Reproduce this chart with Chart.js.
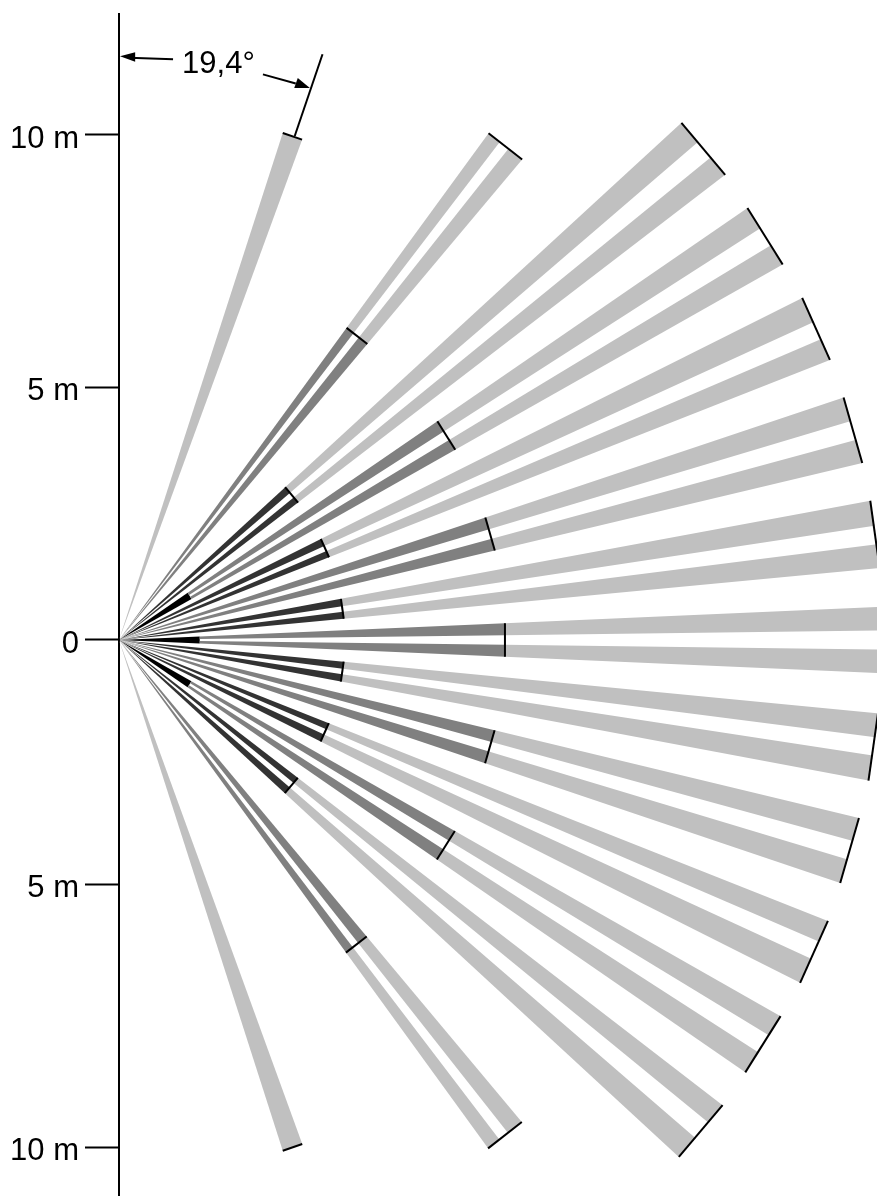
<!DOCTYPE html>
<html>
<head>
<meta charset="utf-8">
<title>Detection zones</title>
<script src="https://cdn.jsdelivr.net/npm/chart.js@4/dist/chart.umd.js"></script>
<style>
  html, body { margin: 0; background: #fff; }
  canvas { display: block; }
</style>
</head>
<body>
<canvas id="zones" width="877" height="1196"></canvas>
<script>
// beams, top to horizontal, angles in degrees above the horizontal
const outerEdge = [72.1, 53.9, 42.6, 34.5, 26.6, 18.5, 10.5, 2.5];
const gapOuter = [null, 52.6, 40.7, 32.7, 24.6, 16.65, 8.6, 0.72];
const gapInner = [null, 51.6, 39.2, 31.2, 23.2, 15.2, 7.2, -0.72];
const innerEdge = [69.9, 50.0, 37.5, 29.5, 21.5, 13.4, 5.4, -2.5];

// the lower half of the drawing sits a little further round
const lowerTilt = 0.12;

// how far each zone reaches, metres (0 = beam has no such zone)
const blackReach = [0, 0, 0, 1.65, 0, 0, 0, 1.6];
const darkReach = [0, 0, 4.47, 0, 4.47, 0, 4.47, 0];
const grayReach = [0, 7.65, 0, 7.65, 0, 7.65, 0, 7.65];
const lightReach = [10.55, 12.42, 15.13, 15.1, 15.13, 15.13, 15.13, 15.13];
const lightReachLower = [10.62, 12.44, 15.09, 15.07, 15.1, 15.07, 15.1, 15.13];

const yTickValues = [10, 5, 0, -4.85, -10.04];
const yTickLabels = ["10 m", "5 m", "0", "5 m", "10 m"];

const angleLabel = "19,4°";
const angleLabelAt = { x: 1.25, y: 11.23 };
const dimensionLine = [{ x: 3.48, y: 9.98 }, { x: 4.03, y: 11.6 }];
const arrowLeftShaft = [{ x: 1.07, y: 11.5 }, { x: 0.2, y: 11.53 }];
const arrowLeftHead = [{ x: 0.02, y: 11.56 }, { x: 0.32, y: 11.64 }, { x: 0.32, y: 11.45 }];
const arrowRightShaft = [{ x: 2.85, y: 11.2 }, { x: 3.5, y: 11.02 }];
const arrowRightHead = [{ x: 3.78, y: 10.93 }, { x: 3.54, y: 11.13 }, { x: 3.47, y: 10.93 }];

const LIGHT = "#c0c0c0", GRAY = "#808080", DARK = "#333333", BLACK = "#000000";

function polar(r, deg) {
  const a = deg * Math.PI / 180;
  return { x: r * Math.cos(a), y: r * Math.sin(a) };
}

const datasets = [];

function addShape(data, color) {
  datasets.push({ data, showLine: true, backgroundColor: color, borderWidth: 0, fill: "shape", order: 2 });
}
function addLine(data) {
  datasets.push({ data, showLine: true, borderColor: BLACK, borderWidth: 2, fill: false, order: 1, borderCapStyle: "butt" });
}
function addStrip(a1, a2, r1, r2, color) {
  addShape([polar(r1, a1), polar(r2, a1), polar(r2, a2), polar(r1, a2)], color);
}

function addBeam(i, lower) {
  const turn = deg => lower ? -(deg + lowerTilt) : deg;
  const top = turn(outerEdge[i]), bottom = turn(innerEdge[i]);
  const strips = gapOuter[i] === null
    ? [[top, bottom]]
    : [[top, turn(gapOuter[i])], [turn(gapInner[i]), bottom]];
  const midReach = Math.max(darkReach[i], grayReach[i]);
  const midColor = darkReach[i] ? DARK : GRAY;
  const end = lower ? lightReachLower[i] : lightReach[i];
  strips.forEach(s => {
    if (midReach) addStrip(s[0], s[1], blackReach[i], midReach, midColor);
    addStrip(s[0], s[1], midReach, end, LIGHT);
  });
  if (blackReach[i]) addStrip(top, bottom, 0, blackReach[i], BLACK);
  if (midReach) addLine([polar(midReach, top), polar(midReach, bottom)]);
  addLine([polar(end, top), polar(end, bottom)]);
}

outerEdge.forEach((_, i) => {
  addBeam(i, false);
  if (outerEdge[i] > 5) addBeam(i, true);   // the horizontal beam is its own mirror
});

addLine(dimensionLine);
addLine(arrowLeftShaft);
addLine(arrowRightShaft);
addShape(arrowLeftHead, BLACK);
addShape(arrowRightHead, BLACK);

const angleText = {
  id: "angleText",
  afterDatasetsDraw(chart) {
    const { ctx, scales } = chart;
    ctx.save();
    ctx.font = "31px 'Liberation Sans', Arial, sans-serif";
    ctx.fillStyle = "#000";
    ctx.textAlign = "left";
    ctx.textBaseline = "alphabetic";
    ctx.fillText(angleLabel, scales.x.getPixelForValue(angleLabelAt.x), scales.y.getPixelForValue(angleLabelAt.y));
    ctx.restore();
  }
};

new Chart(document.getElementById("zones"), {
  type: "scatter",
  data: { datasets },
  plugins: [angleText],
  options: {
    responsive: false,
    animation: false,
    layout: { padding: { top: 14 } },
    elements: { point: { radius: 0 }, line: { tension: 0 } },
    plugins: { legend: { display: false }, tooltip: { enabled: false } },
    scales: {
      x: { type: "linear", min: 0, max: 15.01, display: false },
      y: {
        type: "linear",
        position: "left",
        min: -11.01,
        max: 12.396,
        border: { color: "#000", width: 2 },
        grid: { drawOnChartArea: false, tickLength: 34, tickColor: "#000", tickWidth: 2 },
        afterBuildTicks(scale) {
          scale.ticks = yTickValues.map(value => ({ value }));
        },
        afterFit(scale) {
          scale.width = 119;
          scale.paddingTop = 0;
          scale.paddingBottom = 0;
        },
        ticks: {
          color: "#000",
          padding: 6,
          labelOffset: 4,
          font: { family: "'Liberation Sans', Arial, sans-serif", size: 31 },
          autoSkip: false,
          maxRotation: 0,
          callback: (value, index) => yTickLabels[index]
        }
      }
    }
  }
});
</script>
</body>
</html>
